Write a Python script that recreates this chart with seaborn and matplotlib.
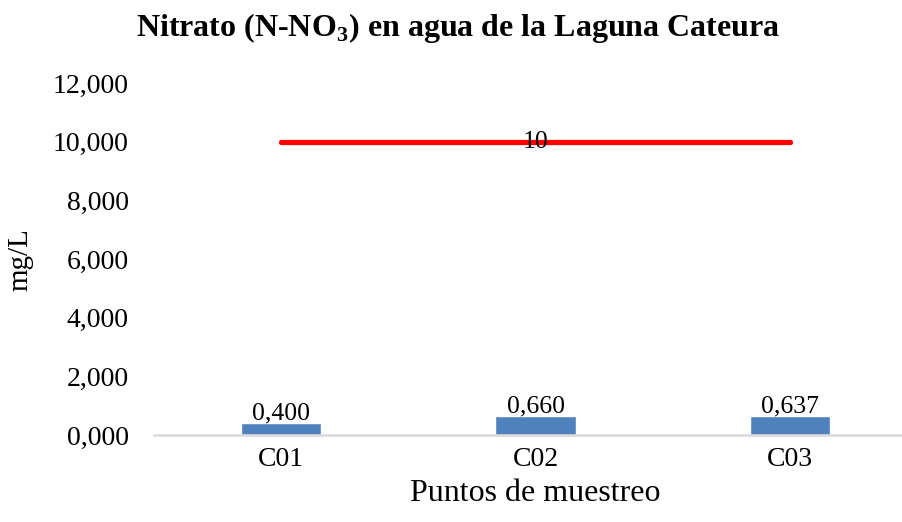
import numpy as np
import matplotlib
matplotlib.use("Agg")
import matplotlib.pyplot as plt
import seaborn as sns
from matplotlib.ticker import FuncFormatter, MultipleLocator

# Datos
puntos = ["C01", "C02", "C03"]
nitrato = [0.400, 0.660, 0.637]
limite = [10, 10, 10]
etiqueta_limite = "10"

sns.set_theme(style="white")
plt.rcParams["font.family"] = ["Liberation Serif", "DejaVu Serif"]
plt.rcParams["mathtext.fontset"] = "custom"
plt.rcParams["mathtext.rm"] = "Liberation Serif"
plt.rcParams["mathtext.bf"] = "Liberation Serif:bold"
plt.rcParams["text.color"] = "black"
plt.rcParams["axes.labelcolor"] = "black"

fig = plt.figure(figsize=(9.02, 5.22), dpi=100)
ax = fig.add_axes([0.1707, 0.1667, 0.846, 0.674])

sns.barplot(x=puntos, y=nitrato, color="#4F81BD", width=0.315, saturation=1, ax=ax)
sns.lineplot(x=puntos, y=limite, color="red", linewidth=3.8,
             solid_capstyle="round", ax=ax)

# etiquetas de las barras
ax.bar_label(ax.containers[0], labels=[f"{v:.3f}".replace(".", ",") for v in nitrato],
             fontsize=18.5, padding=-1, color="black")
ax.text(len(puntos) // 2, limite[0], etiqueta_limite, ha="center", va="center",
        fontsize=18.5, color="black")

ax.set_xlim(-0.5, 2.5)
ax.set_ylim(0, 12)
ax.yaxis.set_major_locator(MultipleLocator(2))
ax.yaxis.set_major_formatter(FuncFormatter(lambda v, p: f"{v:.3f}".replace(".", ",")))

for s in ["top", "right", "left"]:
    ax.spines[s].set_visible(False)
ax.spines["bottom"].set_color("#d9d9d9")
ax.spines["bottom"].set_linewidth(1.8)

ax.tick_params(axis="both", length=0, labelsize=20, colors="black")
ax.tick_params(axis="y", pad=18)
ax.tick_params(axis="x", pad=9)

ax.set_xlabel("Puntos de muestreo", fontsize=23, labelpad=5, color="black")
ax.set_ylabel("mg/L", fontsize=21, labelpad=14, color="black")
fig.suptitle(r"Nitrato (N-NO$_\mathbf{3}$) en agua de la Laguna Cateura",
             fontsize=23, fontweight="bold", x=0.508, y=0.978, color="black")

fig.savefig("out.png", dpi=100)
